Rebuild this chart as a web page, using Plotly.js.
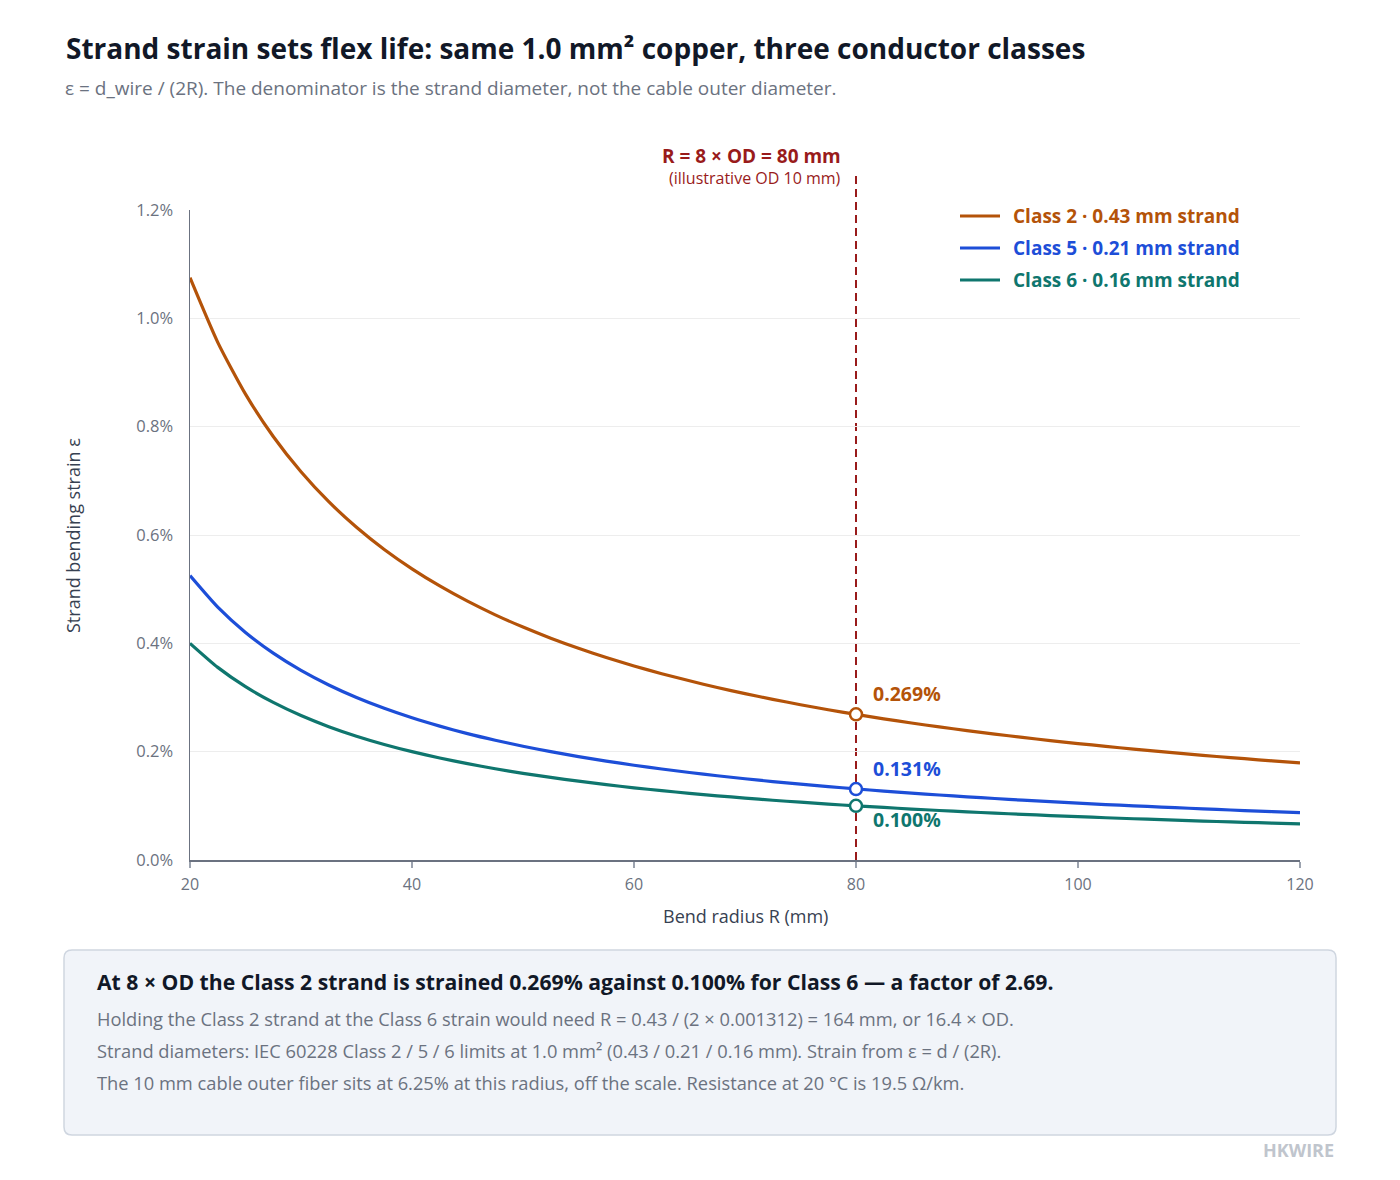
<!DOCTYPE html>
<html>
<head>
<meta charset="utf-8">
<script src="https://cdn.plot.ly/plotly-3.0.1.min.js"></script>
<style>html,body{margin:0;padding:0;background:#fff;}#chart{width:1400px;height:1180px;}</style>
</head>
<body>
<div id="chart"></div>
<script>
// Bend radius R (mm)
const radius = [20,22.5,25,27.5,30,32.5,35,37.5,40,42.5,45,47.5,50,52.5,55,57.5,60,62.5,65,67.5,70,72.5,75,77.5,80,82.5,85,87.5,90,92.5,95,97.5,100,102.5,105,107.5,110,112.5,115,117.5,120];
// Strand bending strain (%)
const class2 = [1.075,0.9556,0.86,0.7818,0.7167,0.6615,0.6143,0.5733,0.5375,0.5059,0.4778,0.4526,0.43,0.4095,0.3909,0.3739,0.3583,0.344,0.3308,0.3185,0.3071,0.2966,0.2867,0.2774,0.2688,0.2606,0.2529,0.2457,0.2389,0.2324,0.2263,0.2205,0.215,0.2098,0.2048,0.2,0.1955,0.1911,0.187,0.183,0.1792];
const class5 = [0.525,0.4667,0.42,0.3818,0.35,0.3231,0.3,0.28,0.2625,0.2471,0.2333,0.2211,0.21,0.2,0.1909,0.1826,0.175,0.168,0.1615,0.1556,0.15,0.1448,0.14,0.1355,0.1313,0.1273,0.1235,0.12,0.1167,0.1135,0.1105,0.1077,0.105,0.1024,0.1,0.0977,0.0955,0.0933,0.0913,0.0894,0.0875];
const class6 = [0.4,0.3556,0.32,0.2909,0.2667,0.2462,0.2286,0.2133,0.2,0.1882,0.1778,0.1684,0.16,0.1524,0.1455,0.1391,0.1333,0.128,0.1231,0.1185,0.1143,0.1103,0.1067,0.1032,0.1,0.097,0.0941,0.0914,0.0889,0.0865,0.0842,0.0821,0.08,0.078,0.0762,0.0744,0.0727,0.0711,0.0696,0.0681,0.0667];
const seriesNames = ["Class 2 · 0.43 mm strand","Class 5 · 0.21 mm strand","Class 6 · 0.16 mm strand"];
const markerR = 80;
const markerVals = [0.269,0.131,0.100];
const markerLabels = ["0.269%","0.131%","0.100%"];
const xTicks = [20,40,60,80,100,120];
const yTicks = [0,0.2,0.4,0.6,0.8,1.0,1.2];
const yTickText = ["0.0%","0.2%","0.4%","0.6%","0.8%","1.0%","1.2%"];

const colors = ["#b45309","#1d4ed8","#0f766e"];
const FONT = "'Open Sans', 'Noto Sans', sans-serif";
const series = [class2, class5, class6];

const traces = [];
series.forEach((s,i)=>{
  traces.push({
    x: radius, y: s, type:'scatter', mode:'lines',
    name: seriesNames[i],
    line:{color:colors[i], width:3.2, shape:'spline', smoothing:0.6},
    hoverinfo:'skip', showlegend:false
  });
});
series.forEach((s,i)=>{
  traces.push({
    x:[markerR], y:[markerVals[i]], type:'scatter', mode:'markers',
    marker:{size:12, color:'#ffffff', line:{color:colors[i], width:2.5}},
    showlegend:false, hoverinfo:'skip'
  });
});

const L=190, T=210, W=1110, H=650;
const px = v => (v-L)/W;
const py = v => (T+H-v)/H;

const annotations = [
  {text:'<b>Strand strain sets flex life: same 1.0 mm² copper, three conductor classes</b>', xref:'paper', yref:'paper', x:px(64), y:py(48), xanchor:'left', yanchor:'middle', showarrow:false, font:{family:FONT, size:28, color:'#111827'}},
  {text:'ε = d_wire / (2R). The denominator is the strand diameter, not the cable outer diameter.', xref:'paper', yref:'paper', x:px(63), y:py(88), xanchor:'left', yanchor:'middle', showarrow:false, font:{family:FONT, size:19, color:'#6b7280'}},
  {text:'<b>R = 8 × OD = 80 mm</b>', xref:'paper', yref:'paper', x:px(843), y:py(156), xanchor:'right', yanchor:'middle', showarrow:false, font:{family:FONT, size:19, color:'#991b1b'}},
  {text:'(illustrative OD 10 mm)', xref:'paper', yref:'paper', x:px(843), y:py(178), xanchor:'right', yanchor:'middle', showarrow:false, font:{family:FONT, size:16, color:'#991b1b'}},
  {text:'Strand bending strain ε', xref:'paper', yref:'paper', x:px(73), y:py(536), textangle:-90, xanchor:'center', yanchor:'middle', showarrow:false, font:{family:FONT, size:18, color:'#374151'}},
  {text:'Bend radius R (mm)', xref:'paper', yref:'paper', x:px(745), y:py(916), xanchor:'center', yanchor:'middle', showarrow:false, font:{family:FONT, size:18, color:'#374151'}},
  {text:'<b>At 8 × OD the Class 2 strand is strained 0.269% against 0.100% for Class 6 — a factor of 2.69.</b>', xref:'paper', yref:'paper', x:px(95), y:py(982), xanchor:'left', yanchor:'middle', showarrow:false, font:{family:FONT, size:21.2, color:'#111827'}},
  {text:'Holding the Class 2 strand at the Class 6 strain would need R = 0.43 / (2 × 0.001312) = 164 mm, or 16.4 × OD.', xref:'paper', yref:'paper', x:px(95), y:py(1018), xanchor:'left', yanchor:'middle', showarrow:false, font:{family:FONT, size:18.3, color:'#6b7280'}},
  {text:'Strand diameters: IEC 60228 Class 2 / 5 / 6 limits at 1.0 mm² (0.43 / 0.21 / 0.16 mm). Strain from ε = d / (2R).', xref:'paper', yref:'paper', x:px(95), y:py(1050), xanchor:'left', yanchor:'middle', showarrow:false, font:{family:FONT, size:18.3, color:'#6b7280'}},
  {text:'The 10 mm cable outer fiber sits at 6.25% at this radius, off the scale. Resistance at 20 °C is 19.5 Ω/km.', xref:'paper', yref:'paper', x:px(95), y:py(1082), xanchor:'left', yanchor:'middle', showarrow:false, font:{family:FONT, size:18.3, color:'#6b7280'}},
  {text:'<b>HKWIRE</b>', xref:'paper', yref:'paper', x:px(1336), y:py(1150), xanchor:'right', yanchor:'middle', showarrow:false, font:{family:FONT, size:18, color:'#c0c5cd'}}
];
const shifts = [21,21,-14];
markerVals.forEach((v,i)=>{
  annotations.push({text:'<b>'+markerLabels[i]+'</b>', xref:'x', yref:'y', x:markerR, y:v, xshift:15, yshift:shifts[i], xanchor:'left', yanchor:'middle', showarrow:false, font:{family:FONT, size:19.5, color:colors[i]}});
});

// rounded box path in paper coords
const bx0=px(64), bx1=px(1336), by0=py(1135), by1=py(950);
const rx=8/W, ry=8/H;
const boxPath = `M ${bx0+rx} ${by1} L ${bx1-rx} ${by1} Q ${bx1} ${by1} ${bx1} ${by1-ry} L ${bx1} ${by0+ry} Q ${bx1} ${by0} ${bx1-rx} ${by0} L ${bx0+rx} ${by0} Q ${bx0} ${by0} ${bx0} ${by0+ry} L ${bx0} ${by1-ry} Q ${bx0} ${by1} ${bx0+rx} ${by1} Z`;

const shapes = [
  {type:'path', xref:'paper', yref:'paper', path:boxPath, fillcolor:'#f1f4f9', line:{color:'#cfd6e0', width:1.5}, layer:'below'},
  {type:'line', xref:'x', yref:'paper', x0:markerR, x1:markerR, y0:0, y1:py(175), line:{color:'#991b1b', width:2, dash:'8px,5px'}, layer:'below'}
];

// custom legend
const legendY = [216,248,280];
seriesNames.forEach((n,i)=>{
  shapes.push({type:'line', xref:'paper', yref:'paper', x0:px(960), x1:px(1000), y0:py(legendY[i]), y1:py(legendY[i]), line:{color:colors[i], width:3}});
  annotations.push({text:'<b>'+n+'</b>', xref:'paper', yref:'paper', x:px(1011), y:py(legendY[i]), xanchor:'left', yanchor:'middle', showarrow:false, font:{family:FONT, size:19, color:colors[i]}});
});

const layout = {
  width:1400, height:1180,
  margin:{l:L, r:1400-L-W, t:T, b:1180-T-H, pad:0},
  paper_bgcolor:'#ffffff', plot_bgcolor:'#ffffff',
  font:{family:FONT, color:'#6b7280'},
  showlegend:false,
  xaxis:{range:[20,120], tickvals:xTicks, ticks:'outside', ticklen:6, tickcolor:'#9ca3af', tickwidth:1.5,
    showline:true, linecolor:'#6b7280', linewidth:1.5, showgrid:false, zeroline:false, ticklabelstandoff:3,
    tickfont:{family:FONT, size:16, color:'#6b7280'}},
  yaxis:{range:[0,1.2], tickvals:yTicks, ticktext:yTickText, ticks:'', showline:true, linecolor:'#6b7280', linewidth:1.5,
    gridcolor:'#ededed', gridwidth:1, zeroline:false, ticklabelstandoff:12,
    tickfont:{family:FONT, size:16.5, color:'#6b7280'}},
  annotations: annotations,
  shapes: shapes
};

Plotly.newPlot('chart', traces, layout, {displayModeBar:false, staticPlot:true});
</script>
</body>
</html>
